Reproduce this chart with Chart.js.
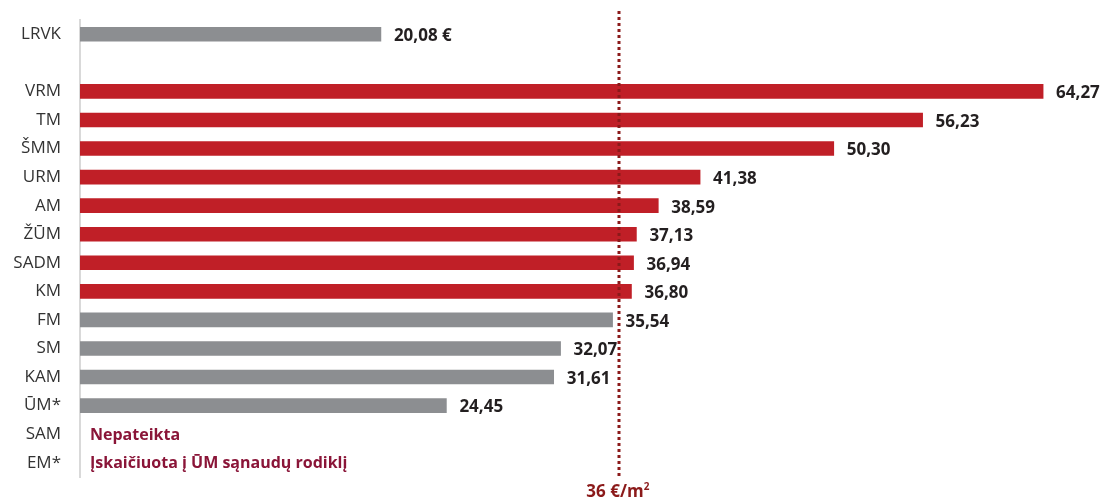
<!DOCTYPE html>
<html lang="lt">
<head>
<meta charset="UTF-8">
<script src="https://cdn.jsdelivr.net/npm/chart.js@4.4.1/dist/chart.umd.min.js"></script>
<title>Sąnaudos</title>
<style>
  html, body { margin: 0; padding: 0; background: #fff; }
  #wrap { width: 1109px; height: 501px; position: relative; }
</style>
</head>
<body>
<div id="wrap"><canvas id="myChart"></canvas></div>
<script>
// data
const categories = ['LRVK', '', 'VRM', 'TM', 'ŠMM', 'URM', 'AM', 'ŽŪM', 'SADM', 'KM', 'FM', 'SM', 'KAM', 'ŪM*', 'SAM', 'EM*'];
const values = [20.08, null, 64.27, 56.23, 50.30, 41.38, 38.59, 37.13, 36.94, 36.80, 35.54, 32.07, 31.61, 24.45, null, null];
const valueLabels = ['20,08 €', '', '64,27', '56,23', '50,30', '41,38', '38,59', '37,13', '36,94', '36,80', '35,54', '32,07', '31,61', '24,45', '', ''];
const notes = { 'SAM': 'Nepateikta', 'EM*': 'Įskaičiuota į ŪM sąnaudų rodiklį' };
const norm = 36;

const RED = '#C01F27';
const GREY = '#8C8E91';
const colors = values.map(v => (v !== null && v > norm ? RED : GREY));

const overlay = {
  id: 'overlay',
  afterDatasetsDraw(chart) {
    const { ctx, scales: { x, y }, chartArea } = chart;
    const meta = chart.getDatasetMeta(0);
    ctx.save();
    // value labels
    ctx.font = 'bold 17px "Open Sans", sans-serif';
    ctx.fillStyle = '#231F20';
    ctx.textBaseline = 'middle';
    ctx.textAlign = 'left';
    meta.data.forEach((bar, i) => {
      if (values[i] === null) return;
      ctx.fillText(valueLabels[i], bar.x + 13, bar.y + 2);
    });
    // notes for missing rows
    ctx.font = 'bold 16px "Open Sans", sans-serif';
    ctx.fillStyle = '#8A1538';
    categories.forEach((c, i) => {
      if (notes[c]) ctx.fillText(notes[c], chartArea.left + 10, y.getPixelForValue(i) + 1);
    });
    // norm line
    const nx = Math.round(x.getPixelForValue(norm));
    ctx.strokeStyle = '#8B1A1A';
    ctx.lineWidth = 3;
    ctx.setLineDash([3, 3]);
    ctx.beginPath();
    ctx.moveTo(nx, 11);
    ctx.lineTo(nx, chartArea.bottom + 2);
    ctx.stroke();
    ctx.setLineDash([]);
    ctx.fillStyle = '#8B1A1A';
    ctx.textAlign = 'center';
    ctx.font = 'bold 17px "Open Sans", sans-serif';
    ctx.fillText('36 €/m', nx - 4, chartArea.bottom + 15);
    const w = ctx.measureText('36 €/m').width;
    ctx.font = 'bold 10px "Open Sans", sans-serif';
    ctx.textAlign = 'left';
    ctx.fillText('2', nx - 4 + w / 2, chartArea.bottom + 10);
    ctx.restore();
  }
};

new Chart(document.getElementById('myChart'), {
  type: 'bar',
  data: {
    labels: categories,
    datasets: [{
      data: values,
      backgroundColor: colors,
      barThickness: 14
    }]
  },
  options: {
    indexAxis: 'y',
    responsive: true,
    maintainAspectRatio: false,
    animation: false,
    layout: { padding: { top: 20, bottom: 24, right: 10, left: 0 } },
    plugins: { legend: { display: false }, tooltip: { enabled: false } },
    scales: {
      x: {
        display: false,
        min: 0,
        max: 68
      },
      y: {
        afterFit(scale) {
          scale.width = 80;
          scale.paddingTop = 0;
          scale.paddingBottom = 0;
        },
        grid: { display: false, drawTicks: false },
        border: { display: true, color: '#D9D9D9', width: 2 },
        ticks: {
          padding: 19,
          color: '#333333',
          font: { family: '"Open Sans", sans-serif', size: 17 }
        }
      }
    }
  },
  plugins: [overlay]
});
</script>
</body>
</html>
